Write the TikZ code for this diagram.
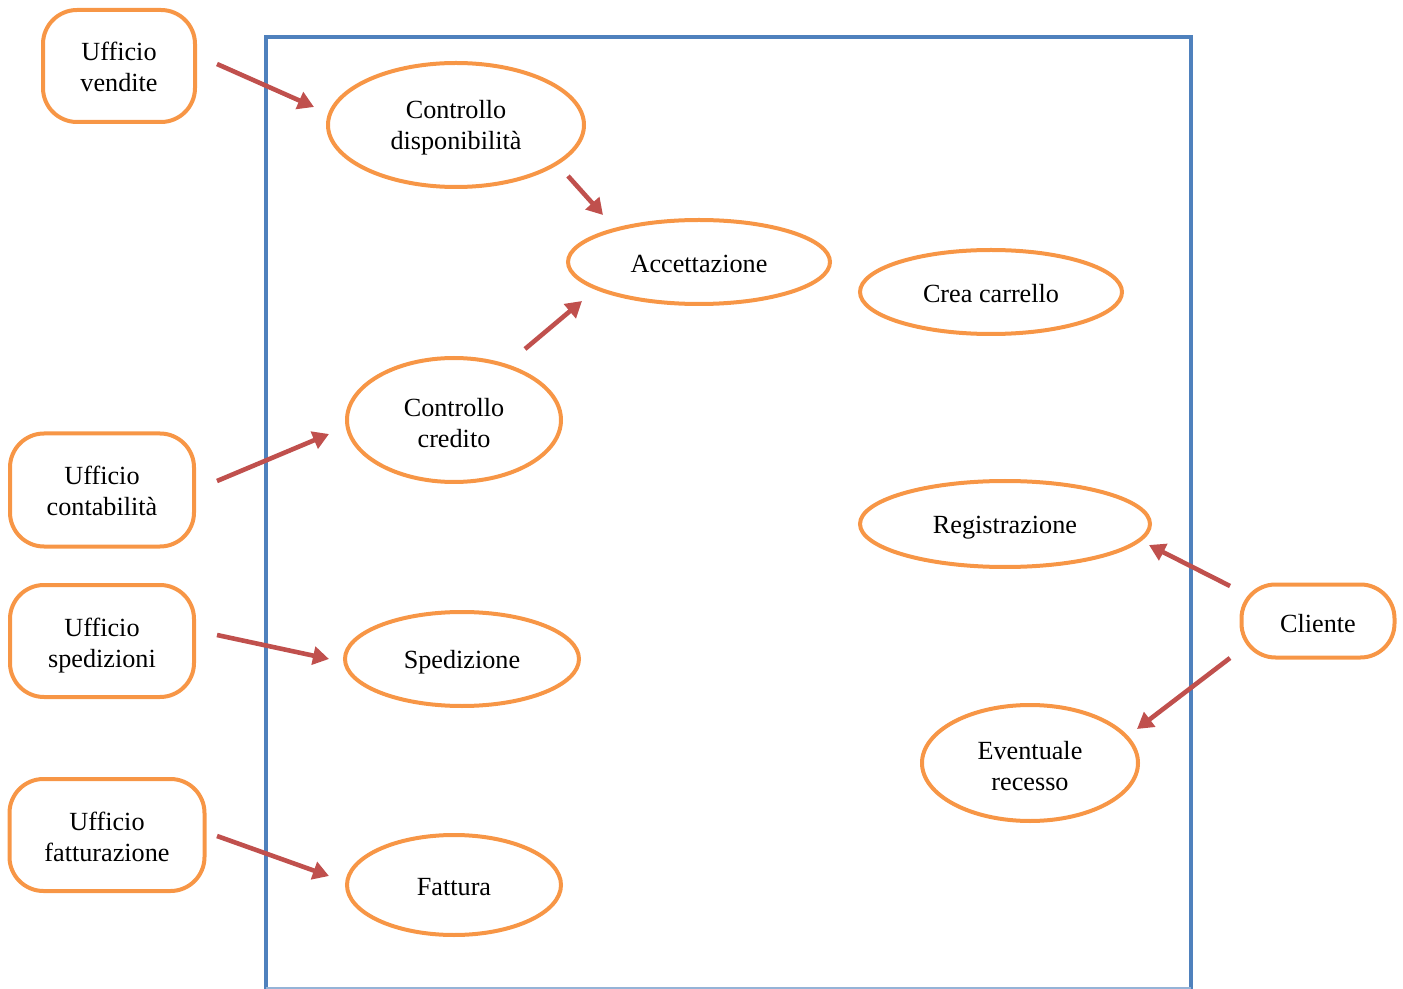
\documentclass[tikz,border=0pt]{standalone}
\usepackage{fontspec}
\setmainfont{Liberation Serif}
\usetikzlibrary{shapes.geometric,arrows.meta}
\definecolor{frameblue}{HTML}{4F81BD}
\definecolor{lightblue}{HTML}{95B3D7}
\definecolor{uorange}{HTML}{F79646}
\definecolor{arrred}{HTML}{C0504D}
\newcommand\mystrut[1]{\rule{0pt}{#1}}
\tikzset{
  uc/.style={ellipse, draw=uorange, line width=2pt, inner sep=0pt, align=center,
    font=\fontsize{13.1}{15.5}\selectfont},
  actor/.style={draw=uorange, line width=2pt, rounded corners=17pt, inner sep=0pt,
    align=center, font=\fontsize{13.1}{15.5}\selectfont},
  arr/.style={arrred, line width=2.3pt, -{Triangle[length=8pt,width=9pt]}},
}
\begin{document}
\begin{tikzpicture}[x=0.5pt,y=-0.5pt]
\useasboundingbox (0,0) rectangle (1403,989);
% system boundary
\draw[frameblue, line width=2pt] (266,995) -- (266,37) -- (1191,37) -- (1191,995);
\draw[lightblue, line width=0.6pt] (266,988) -- (1191,988);
% use cases
\node[uc, minimum width=128pt, minimum height=62pt] (cd) at (456,125) {\mystrut{12.2pt}Controllo\\disponibilità};
\node[uc, minimum width=131pt, minimum height=42pt] (acc) at (699,262) {\mystrut{11pt}Accettazione};
\node[uc, minimum width=131pt, minimum height=42pt] (cc) at (991,292) {\mystrut{11pt}Crea carrello};
\node[uc, minimum width=107pt, minimum height=62pt] (cr) at (454,420) {\mystrut{12pt}Controllo\\credito};
\node[uc, minimum width=145pt, minimum height=43pt] (reg) at (1005,524) {\mystrut{12.6pt}Registrazione};
\node[uc, minimum width=117pt, minimum height=47pt] (sp) at (462,659) {\mystrut{12.6pt}Spedizione};
\node[uc, minimum width=108pt, minimum height=58pt] (rec) at (1030,763) {\mystrut{12.6pt}Eventuale\\recesso};
\node[uc, minimum width=107pt, minimum height=50pt] (fat) at (454,885) {\mystrut{11pt}Fattura};
% actors
\node[actor, minimum width=76pt, minimum height=56pt] (uv) at (119,66) {\mystrut{10pt}Ufficio\\vendite};
\node[actor, minimum width=92pt, minimum height=56.5pt] (uc) at (102,490) {\mystrut{10pt}Ufficio\\contabilità};
\node[actor, minimum width=92pt, minimum height=56pt] (us) at (102,641) {\mystrut{14pt}Ufficio\\spedizioni};
\node[actor, minimum width=97.5pt, minimum height=56pt] (uf) at (107,835) {\mystrut{11pt}Ufficio\\fatturazione};
\node[actor, minimum width=76.5pt, minimum height=36.5pt] (cl) at (1318,621) {\mystrut{12pt}Cliente};
% arrow end points
\coordinate (a1s) at (217,64);   \coordinate (a1e) at (314,107);
\coordinate (a2s) at (568,176);  \coordinate (a2e) at (603,215);
\coordinate (a3s) at (525,349);  \coordinate (a3e) at (582,301);
\coordinate (a4s) at (217,481);  \coordinate (a4e) at (329,434);
\coordinate (a5s) at (217,635);  \coordinate (a5e) at (329,659);
\coordinate (a6s) at (217,836);  \coordinate (a6e) at (329,876);
\coordinate (a7s) at (1230,586); \coordinate (a7e) at (1149,545);
\coordinate (a8s) at (1230,658); \coordinate (a8e) at (1137,729);
\draw[arr] (a1s) -- (a1e);
\draw[arr] (a2s) -- (a2e);
\draw[arr] (a3s) -- (a3e);
\draw[arr] (a4s) -- (a4e);
\draw[arr] (a5s) -- (a5e);
\draw[arr] (a6s) -- (a6e);
\draw[arr] (a7s) -- (a7e);
\draw[arr] (a8s) -- (a8e);
\end{tikzpicture}
\end{document}
